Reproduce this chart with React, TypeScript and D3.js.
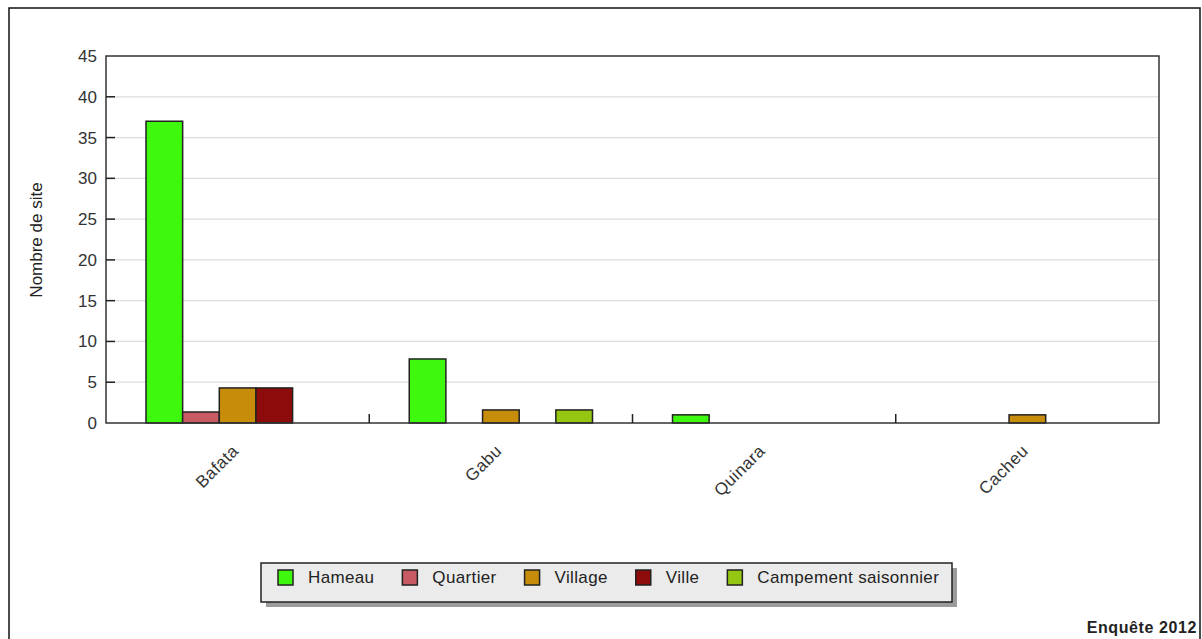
import React from 'react'
import * as d3 from "d3";

const regions = ["Bafata", "Gabu", "Quinara", "Cacheu"]
const types = ["Hameau", "Quartier", "Village", "Ville", "Campement saisonnier"]
const typeColors = ["#3ef90e", "#c75a62", "#c78c0a", "#8d0b0b", "#94c612"]

// nombre de site par région, dans l'ordre des types
const hameau = [37, 7.85, 1, 0]
const quartier = [1.35, 0, 0, 0]
const village = [4.3, 1.6, 0, 1]
const ville = [4.3, 0, 0, 0]
const campement = [0, 1.6, 0, 0]

const yTicks = [0, 5, 10, 15, 20, 25, 30, 35, 40, 45]

const FONT = "'Liberation Sans', Arial, sans-serif"

function drawChart(svgRef: React.RefObject<SVGSVGElement>) {
  const series = [hameau, quartier, village, ville, campement]

  const width = 1202
  const height = 639
  const margin = { top: 56, right: 43, bottom: 216, left: 106 }

  const svg = d3.select(svgRef.current)
    .attr("width", width)
    .attr("height", height)
    .attr("font-family", FONT)
  svg.selectAll("*").remove()

  // cadre extérieur
  svg.append("rect")
    .attr("x", 9).attr("y", 8)
    .attr("width", 1191).attr("height", 660)
    .attr("fill", "white")
    .attr("stroke", "#111")
    .attr("stroke-width", 1.5)

  const x0 = d3.scaleBand()
    .domain(regions)
    .range([margin.left, width - margin.right])

  const x1 = d3.scaleBand()
    .domain(types)
    .range([40, x0.bandwidth() - 40])

  const y = d3.scaleLinear()
    .domain([0, 45])
    .range([height - margin.bottom, margin.top])

  const color = d3.scaleOrdinal(types, typeColors)

  // grille
  svg.append("g")
    .selectAll("line")
    .data(yTicks.filter(d => d > 0 && d < 45))
    .join("line")
      .attr("x1", margin.left)
      .attr("x2", width - margin.right)
      .attr("y1", d => y(d))
      .attr("y2", d => y(d))
      .attr("stroke", "#dcdcdc")
      .attr("stroke-width", 1.2)

  // barres
  svg.append("g")
    .selectAll("g")
    .data(regions)
    .join("g")
      .attr("transform", d => `translate(${x0(d)},0)`)
    .selectAll("rect")
    .data((r, i) => types.map((t, j) => ({ type: t, value: series[j][i] })).filter(d => d.value > 0))
    .join("rect")
      .attr("x", d => x1(d.type))
      .attr("y", d => y(d.value))
      .attr("width", x1.bandwidth())
      .attr("height", d => y(0) - y(d.value))
      .attr("fill", d => color(d.type))
      .attr("stroke", "#222")
      .attr("stroke-width", 1.5)

  // cadre du graphique
  svg.append("rect")
    .attr("x", margin.left).attr("y", margin.top)
    .attr("width", width - margin.right - margin.left)
    .attr("height", y(0) - margin.top)
    .attr("fill", "none")
    .attr("stroke", "#333")
    .attr("stroke-width", 1.5)

  // axe Y
  const yAxis = svg.append("g")
  yAxis.selectAll("line")
    .data(yTicks.filter(d => d > 0 && d < 45))
    .join("line")
      .attr("x1", margin.left)
      .attr("x2", margin.left + 9)
      .attr("y1", d => y(d))
      .attr("y2", d => y(d))
      .attr("stroke", "#222")
      .attr("stroke-width", 1.5)
  yAxis.selectAll("text")
    .data(yTicks)
    .join("text")
      .attr("x", 97)
      .attr("y", d => y(d))
      .attr("dy", "0.35em")
      .attr("text-anchor", "end")
      .attr("font-size", 17)
      .attr("fill", "#333")
      .text(d => d)

  svg.append("text")
    .attr("transform", `translate(42,240) rotate(-90)`)
    .attr("text-anchor", "middle")
    .attr("font-size", 17)
    .attr("fill", "#222")
    .text("Nombre de site")

  // axe X
  svg.append("g")
    .selectAll("line")
    .data(regions.slice(1))
    .join("line")
      .attr("x1", d => x0(d))
      .attr("x2", d => x0(d))
      .attr("y1", y(0) - 9)
      .attr("y2", y(0))
      .attr("stroke", "#222")
      .attr("stroke-width", 1.5)

  svg.append("g")
    .selectAll("text")
    .data(regions)
    .join("text")
      .attr("transform", d => `translate(${x0(d) + x0.bandwidth() / 2 + 2},452) rotate(-45)`)
      .attr("text-anchor", "end")
      .attr("font-size", 17)
      .attr("letter-spacing", 0.5)
      .attr("fill", "#333")
      .text(d => d)

  // légende
  const legend = svg.append("g")
  legend.append("rect")
    .attr("x", 266).attr("y", 568)
    .attr("width", 691).attr("height", 39)
    .attr("fill", "#9c9c9c")
  legend.append("rect")
    .attr("x", 261).attr("y", 563)
    .attr("width", 691).attr("height", 39)
    .attr("fill", "#ebebeb")
    .attr("stroke", "#222")
    .attr("stroke-width", 1.5)

  let lx = 278
  types.forEach(t => {
    legend.append("rect")
      .attr("x", lx).attr("y", 570)
      .attr("width", 15).attr("height", 15)
      .attr("fill", color(t))
      .attr("stroke", "#222")
      .attr("stroke-width", 1.5)
    const txt = legend.append("text")
      .attr("x", lx + 30)
      .attr("y", 577.5)
      .attr("dy", "0.35em")
      .attr("font-size", 17)
      .attr("letter-spacing", 0.35)
      .attr("fill", "#222")
      .text(t)
    const w = (txt.node() as SVGTextElement).getComputedTextLength()
    lx = lx + 30 + w + 28
  })

  svg.append("text")
    .attr("x", 1197)
    .attr("y", 632.5)
    .attr("text-anchor", "end")
    .attr("font-size", 16)
    .attr("font-weight", "bold")
    .attr("letter-spacing", 0.6)
    .attr("fill", "#222")
    .text("Enquête 2012")

  return svg.node()
}

const App: React.FunctionComponent = () => {
  const svg = React.useRef<SVGSVGElement>(null)

  React.useEffect(() => {
    drawChart(svg)
  }, [svg])

  return (
    <div id="chart">
      <svg ref={svg} style={{ position: "absolute", left: 0, top: 0, display: "block" }} />
    </div>
  )
}

export default App
